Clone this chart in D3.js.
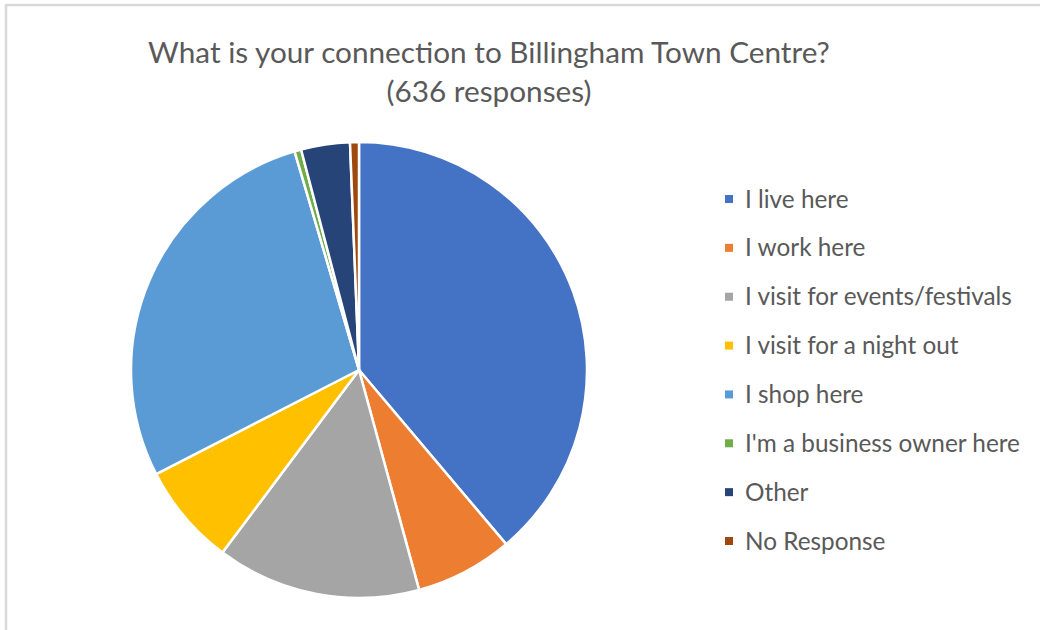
<!DOCTYPE html>
<html>
<head>
<meta charset="utf-8">
<script src="https://cdn.jsdelivr.net/npm/d3@7"></script>
<style>
  body { margin: 0; background: #fff; }
  svg { display: block; }
</style>
</head>
<body>
<svg id="chart" width="1040" height="630"></svg>
<script>
// values (out of 636 responses)
var categories = ["I live here", "I work here", "I visit for events/festivals", "I visit for a night out",
                  "I shop here", "I'm a business owner here", "Other", "No Response"];
var counts = [247, 44, 92, 46, 178, 3, 22, 4];
var colours = ["#4472C4", "#ED7D31", "#A5A5A5", "#FFC000", "#5B9BD5", "#70AD47", "#264478", "#9E480E"];
var titleLines = ["What is your connection to Billingham Town Centre?", "(636 responses)"];

var svg = d3.select("#chart");
var font = "Lato, 'Open Sans', 'Liberation Sans', sans-serif";

// chart frame
svg.append("rect")
    .attr("x", 6).attr("y", 5)
    .attr("width", 1060).attr("height", 660)
    .attr("fill", "none")
    .attr("stroke", "#d9d9d9")
    .attr("stroke-width", 2.5);

// title, scaled so the first line has the reference width
var title = svg.append("text")
    .attr("text-anchor", "middle")
    .attr("fill", "#595959")
    .attr("font-family", font)
    .attr("font-size", 24);
title.selectAll("tspan")
    .data(titleLines)
    .enter()
    .append("tspan")
    .attr("x", 489)
    .attr("y", (d, i) => 63 + i * 39)
    .text(d => d);
var w = title.select("tspan").node().getComputedTextLength();
title.attr("font-size", 24 * 682 / w);

// pie
var cx = 359, cy = 370, radius = 228;
var pie = d3.pie().sort(null).value(d => d);
var arc = d3.arc().innerRadius(0).outerRadius(radius);
var colour = d3.scaleOrdinal().domain(categories).range(colours);

svg.append("g")
    .attr("transform", "translate(" + cx + "," + cy + ")")
    .selectAll("path")
    .data(pie(counts))
    .enter()
    .append("path")
    .attr("d", arc)
    .attr("fill", (d, i) => colour(categories[i]))
    .attr("stroke", "#fff")
    .attr("stroke-width", 2.5)
    .attr("stroke-linejoin", "round");

// legend
var y = d3.scalePoint().domain(categories).range([199, 541]);
var legend = svg.append("g")
    .selectAll("g")
    .data(categories)
    .enter()
    .append("g")
    .attr("transform", d => "translate(725," + y(d) + ")");

legend.append("rect")
    .attr("x", 0).attr("y", -4)
    .attr("width", 8).attr("height", 8)
    .attr("fill", d => colour(d));

var labels = legend.append("text")
    .attr("x", 20)
    .attr("dy", "0.35em")
    .attr("fill", "#595959")
    .attr("font-family", font)
    .attr("font-size", 20)
    .text(d => d);
var lw = labels.filter((d, i) => i === 5).node().getComputedTextLength();
labels.attr("font-size", 20 * 275 / lw);
</script>
</body>
</html>
